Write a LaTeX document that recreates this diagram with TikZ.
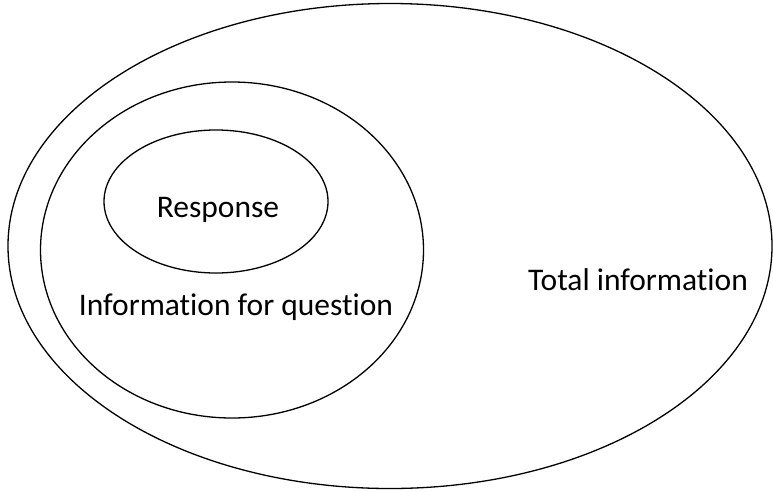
\documentclass[tikz,border=0pt]{standalone}
\usepackage{fontspec}
\setmainfont{Carlito}[Ligatures=CommonOff]
\begin{document}
\begin{tikzpicture}[x=1pt,y=-1pt,
  ring/.style={draw=black,line width=1.3pt},
  lbl/.style={anchor=base,inner sep=0pt,font=\fontsize{31.5}{37}\selectfont}]
\useasboundingbox (0,0) rectangle (773,491);
\draw[ring] (390,246) ellipse [x radius=382, y radius=242.5];
\draw[ring] (232,250) ellipse [x radius=191.5, y radius=168];
\draw[ring] (216,201.5) ellipse [x radius=112, y radius=71.5];
\node[lbl] (resp) at (218,217) {Response};
\node[lbl] (info) at (236,315) {Information for question};
\node[lbl] (total) at (638,290) {Total information};
\end{tikzpicture}
\end{document}
